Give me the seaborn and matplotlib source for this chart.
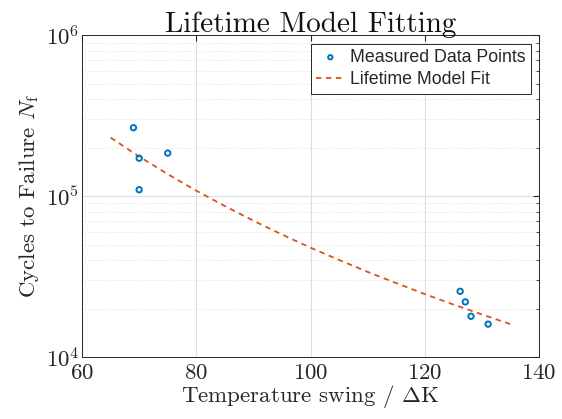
import matplotlib
matplotlib.use("Agg")
import matplotlib.pyplot as plt
import matplotlib.ticker as mticker
import numpy as np
import pandas as pd
import seaborn as sns

# measured points
meas_dT = [69.0, 70.0, 70.0, 75.0, 126.2, 127.1, 128.1, 131.1]
meas_N = [2.66e5, 1.72e5, 1.095e5, 1.85e5, 2.56e4, 2.20e4, 1.79e4, 1.60e4]

# fitted curve, sampled along the dashed line
fit_dT = [65, 70, 75, 80, 85, 90, 95, 100, 105, 110, 115, 120, 125, 130, 135]
fit_N = [2.31e5, 1.76e5, 1.37e5, 1.08e5, 8.67e4, 7.03e4, 5.77e4, 4.78e4,
         4.01e4, 3.38e4, 2.88e4, 2.46e4, 2.12e4, 1.84e4, 1.60e4]

sns.set_style("white")
plt.rcParams["font.family"] = ["cmr10", "DejaVu Serif"]
plt.rcParams["mathtext.fontset"] = "cm"
plt.rcParams["axes.formatter.use_mathtext"] = True

blue = "#0072BD"
orange = "#D95319"

meas = pd.DataFrame({"dT": meas_dT, "N": meas_N})
fit = pd.DataFrame({"dT": fit_dT, "N": fit_N})

fig = plt.figure(figsize=(5.62, 4.19), dpi=100)
ax = fig.add_axes([0.146, 0.148, 0.813, 0.768])

sns.lineplot(data=fit, x="dT", y="N", ax=ax, color=orange, linewidth=1.3,
             dashes=False, linestyle=(0, (3, 2.5)), label="Lifetime Model Fit", zorder=2)
sns.scatterplot(data=meas, x="dT", y="N", ax=ax, marker="o", s=15,
                facecolor="none", edgecolor=blue, linewidth=1.4,
                label="Measured Data Points", zorder=3)

ax.set_yscale("log")
ax.set_xlim(60, 140)
ax.set_ylim(1e4, 1e6)
ax.set_xticks([60, 80, 100, 120, 140])
ax.yaxis.set_major_locator(mticker.LogLocator(base=10, numticks=5))
ax.yaxis.set_minor_locator(mticker.LogLocator(base=10, subs=np.arange(2, 10), numticks=20))
ax.yaxis.set_minor_formatter(mticker.NullFormatter())

ax.grid(True, which="major", color="#dedede", linewidth=0.8, linestyle="-")
ax.grid(True, which="minor", axis="y", color="#dedede", linewidth=0.7, linestyle=(0, (1, 2)))
ax.set_axisbelow(True)

for s in ax.spines.values():
    s.set_color("#262626")
    s.set_linewidth(0.7)
ax.tick_params(which="both", direction="in", top=True, right=True, colors="#262626",
               labelcolor="#262626", labelsize=16.5)
ax.tick_params(axis="x", pad=5)
ax.tick_params(axis="y", pad=2)
ax.tick_params(which="major", length=4)
ax.tick_params(which="minor", length=2.5)

ax.set_xlabel(r"Temperature swing / $\Delta\mathrm{K}$", fontsize=16.5, color="#262626", labelpad=0)
ax.set_ylabel(r"Cycles to Failure $N_\mathrm{f}$", fontsize=16.5, color="#262626", labelpad=3)
ax.set_title("Lifetime Model Fitting", fontsize=21, color="#111111", pad=2)

handles, labels = ax.get_legend_handles_labels()
order = [labels.index("Measured Data Points"), labels.index("Lifetime Model Fit")]
leg = ax.legend([handles[i] for i in order], [labels[i] for i in order],
                loc="upper right", bbox_to_anchor=(0.99, 0.985),
                prop={"family": "Liberation Sans", "size": 12.8},
                frameon=True, fancybox=False, edgecolor="#262626", framealpha=1,
                handlelength=1.6, handletextpad=0.3, borderpad=0.3, labelspacing=0.3,
                borderaxespad=0.2, markerscale=0.8)
leg.get_frame().set_linewidth(0.7)

fig.savefig("out.png", dpi=100)
